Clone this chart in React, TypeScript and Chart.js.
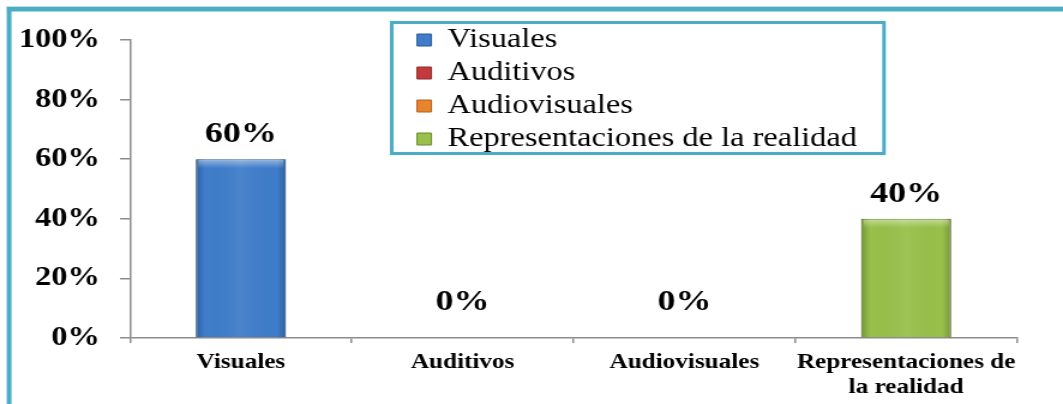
import React, { useEffect, useRef } from 'react';
import { Chart, registerables } from 'chart.js';

Chart.register(...registerables);

// ---- data ----
const categories = ['Visuales', 'Auditivos', 'Audiovisuales', 'Representaciones de la realidad'];
const axisLabels = [['Visuales'], ['Auditivos'], ['Audiovisuales'], ['Representaciones de', 'la realidad']];
const values = [60, 0, 0, 40];
const yTicks = [0, 20, 40, 60, 80, 100];
const colors = ['#3F7DCA', '#C23A3C', '#E8842C', '#98C04A'];
const borderColors = ['#2C5B96', '#8E2A2B', '#B0611E', '#6A8A2E'];

// ---- layout (page px, canvas is stretched horizontally like the reference) ----
const PAGE_W = 1063;
const PAGE_H = 404;
const W = 886;
const H = 404;
const SX = PAGE_W / W;
const px = (x: number) => x / SX;
const SERIF = "'Liberation Serif', 'Times New Roman', serif";
const TEAL = '#4BACC6';
const AXIS = '#8C8C8C';
const LEG_FONT = 27;
const LEG_PAD = 6;

const framePlugin = {
  id: 'frame',
  beforeDraw(chart: any) {
    const ctx = chart.ctx;
    ctx.save();
    ctx.fillStyle = '#BFE1EA';
    ctx.fillRect(px(6), 6, W, 1);
    ctx.fillRect(px(6), 6, px(1), H);
    ctx.fillStyle = TEAL;
    ctx.fillRect(px(7), 7, W, 4.5);
    ctx.fillRect(px(7), 7, px(4.5), H);
    ctx.restore();
  },
};

const legendPlacer = {
  id: 'legendPlacer',
  afterUpdate(chart: any) {
    const lg = chart.legend;
    if (!lg) return;
    lg.left = px(417) - LEG_PAD;
    lg.top = 40 - LEG_FONT / 2 - LEG_PAD;
    lg.right = px(884);
    lg.bottom = 175;
    lg.width = lg.right - lg.left;
    lg.height = lg.bottom - lg.top;
  },
  afterDraw(chart: any) {
    const ctx = chart.ctx;
    ctx.save();
    ctx.strokeStyle = TEAL;
    ctx.lineWidth = 3;
    ctx.strokeRect(px(391.7), 22.5, px(884) - px(391.7), 131);
    ctx.restore();
  },
};

const bevel = {
  id: 'bevel',
  afterDatasetsDraw(chart: any) {
    const ctx = chart.ctx;
    const meta = chart.getDatasetMeta(0);
    ctx.save();
    meta.data.forEach((bar: any) => {
      const { x, y, base, width } = bar.getProps(['x', 'y', 'base', 'width'], true);
      const h = base - y;
      if (h <= 1) return;
      const l = x - width / 2;
      const g = ctx.createLinearGradient(l, 0, l + width, 0);
      g.addColorStop(0, 'rgba(0,0,0,0.22)');
      g.addColorStop(0.1, 'rgba(0,0,0,0.0)');
      g.addColorStop(0.5, 'rgba(255,255,255,0.06)');
      g.addColorStop(0.9, 'rgba(0,0,0,0.0)');
      g.addColorStop(1, 'rgba(0,0,0,0.22)');
      ctx.fillStyle = g;
      ctx.fillRect(l, y, width, h);
      const t = ctx.createLinearGradient(0, y, 0, y + 9);
      t.addColorStop(0, 'rgba(255,255,255,0.45)');
      t.addColorStop(1, 'rgba(255,255,255,0)');
      ctx.fillStyle = t;
      ctx.fillRect(l + 2, y + 1, width - 4, 9);
    });
    ctx.restore();
  },
};

const dataLabels = {
  id: 'dataLabels',
  afterDatasetsDraw(chart: any) {
    const ctx = chart.ctx;
    const meta = chart.getDatasetMeta(0);
    ctx.save();
    ctx.font = `bold 30px ${SERIF}`;
    ctx.fillStyle = '#000';
    ctx.textAlign = 'center';
    ctx.textBaseline = 'middle';
    meta.data.forEach((bar: any, i: number) => {
      const v = values[i];
      ctx.fillText(`${v}%`, bar.x, bar.y - (v === 0 ? 36 : 25));
    });
    ctx.restore();
  },
};

export default function App() {
  const ref = useRef<HTMLCanvasElement | null>(null);

  useEffect(() => {
    if (!ref.current) return;
    const chart = new Chart(ref.current, {
      type: 'bar',
      data: {
        labels: axisLabels as any,
        datasets: [
          {
            label: 'Serie',
            data: values,
            backgroundColor: colors,
            borderColor: borderColors,
            borderWidth: 1,
            categoryPercentage: 1,
            barPercentage: 0.406,
          },
        ],
      },
      options: {
        responsive: false,
        animation: false,
        devicePixelRatio: 1,
        events: [],
        layout: { padding: { left: 0, top: 40, right: W - px(1017), bottom: 0 } },
        plugins: {
          tooltip: { enabled: false },
          title: { display: false },
          legend: {
            display: true,
            position: 'chartArea' as any,
            align: 'start',
            labels: {
              color: '#000',
              boxWidth: 12,
              boxHeight: 12,
              padding: LEG_PAD,
              textAlign: 'left',
              font: { family: SERIF, size: LEG_FONT, weight: 'normal' },
              generateLabels: () =>
                categories.map((c, i) => ({
                  text: c,
                  fillStyle: colors[i],
                  strokeStyle: borderColors[i],
                  lineWidth: 1,
                  hidden: false,
                  index: i,
                  fontColor: '#000',
                })),
            },
          },
        },
        scales: {
          x: {
            type: 'category',
            offset: true,
            grid: {
              display: true,
              offset: true,
              drawOnChartArea: false,
              drawTicks: true,
              tickLength: 5,
              color: AXIS,
              lineWidth: 1.5,
            },
            border: { display: true, color: AXIS, width: 1.5 },
            ticks: {
              color: '#000',
              padding: 8,
              maxRotation: 0,
              minRotation: 0,
              autoSkip: false,
              font: { family: SERIF, size: 21, weight: 'bold', lineHeight: 1.15 },
            },
            afterFit: (s: any) => {
              s.height = H - 338;
            },
          },
          y: {
            min: 0,
            max: 100,
            afterBuildTicks: (s: any) => {
              s.ticks = yTicks.map((v) => ({ value: v }));
            },
            grid: {
              display: true,
              drawOnChartArea: false,
              drawTicks: true,
              tickLength: px(10),
              color: AXIS,
              lineWidth: 1.5,
            },
            border: { display: true, color: AXIS, width: 1.5 },
            ticks: {
              color: '#000',
              padding: px(20),
              font: { family: SERIF, size: 27, weight: 'bold' },
              callback: (v: any) => `${v}%`,
            },
            afterFit: (s: any) => {
              s.width = px(130);
            },
          },
        },
      },
      plugins: [framePlugin, legendPlacer, bevel, dataLabels],
    });
    return () => chart.destroy();
  }, []);

  return (
    <div
      style={{
        position: 'fixed',
        left: 0,
        top: 0,
        width: PAGE_W,
        height: PAGE_H,
        background: '#fff',
        overflow: 'hidden',
      }}
    >
      <canvas
        ref={ref}
        width={W}
        height={H}
        style={{ width: `${PAGE_W}px`, height: `${PAGE_H}px`, display: 'block' }}
      />
    </div>
  );
}
